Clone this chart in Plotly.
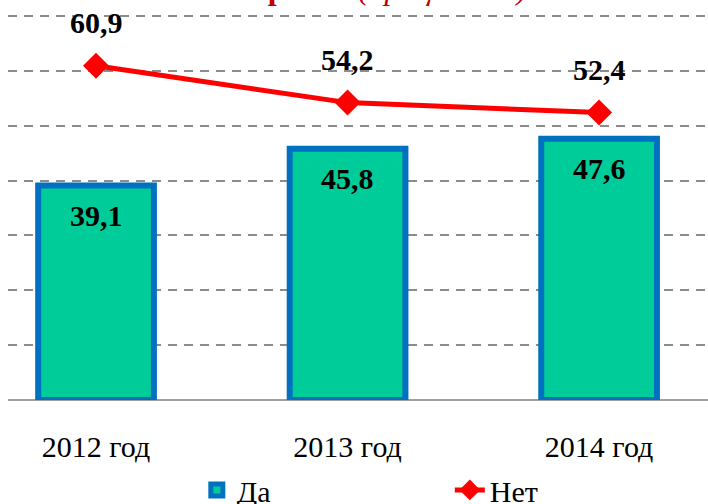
import plotly.graph_objects as go

categories = ["2012 год", "2013 год", "2014 год"]
yes_values = [39.1, 45.8, 47.6]
no_values = [60.9, 54.2, 52.4]
yes_labels = ["39,1", "45,8", "47,6"]
no_labels = ["60,9", "54,2", "52,4"]
series_names = ["Да", "Нет"]
title_text = "<b>интернет?</b> <i>(процентов)</i>"

FONT = "Liberation Serif"

fig = go.Figure()
fig.add_trace(go.Bar(
    x=categories, y=yes_values, name=series_names[0],
    marker=dict(color="#00CC99", line=dict(color="#0070C0", width=6)),
    width=0.46, hoverinfo="skip",
))
fig.add_trace(go.Scatter(
    x=categories, y=no_values, name=series_names[1], mode="lines+markers",
    line=dict(color="#FF0000", width=5),
    marker=dict(symbol="diamond", size=20, color="#FF0000"),
    hoverinfo="skip",
))

annotations = []
for c, v, t in zip(categories, yes_values, yes_labels):
    annotations.append(dict(x=c, y=v, text="<b>%s</b>" % t, showarrow=False,
                            yshift=-30, yanchor="middle",
                            font=dict(family=FONT, size=30, color="black")))
for c, v, t in zip(categories, no_values, no_labels):
    annotations.append(dict(x=c, y=v, text="<b>%s</b>" % t, showarrow=False,
                            yshift=43, yanchor="middle",
                            font=dict(family=FONT, size=30, color="black")))
annotations.append(dict(xref="paper", yref="paper", x=0.509, y=0.98,
                        xanchor="center", yanchor="bottom", text=title_text,
                        showarrow=False,
                        font=dict(family=FONT, size=32, color="#C00000")))

fig.update_layout(
    width=708, height=504,
    margin=dict(l=8, r=0, t=0, b=104, autoexpand=False),
    paper_bgcolor="white", plot_bgcolor="white",
    showlegend=True,
    legend=dict(orientation="h", xref="container", yref="container",
                x=0.278, y=0.028, xanchor="left", yanchor="middle",
                entrywidth=208, entrywidthmode="pixels",
                font=dict(family=FONT, size=30, color="black"),
                bgcolor="rgba(0,0,0,0)"),
    annotations=annotations,
    xaxis=dict(range=[-0.35, 2.433], showgrid=False, zeroline=False,
               showline=False, ticks="",
               tickfont=dict(family=FONT, size=30, color="black"),
               ticklabelstandoff=26),
    yaxis=dict(range=[0, 72.9], dtick=10, showticklabels=False,
               showgrid=True, gridcolor="#8C8C8C", gridwidth=2,
               griddash="9px,7px",
               zeroline=True, zerolinecolor="#A0A0A0", zerolinewidth=1.5,
               showline=False),
)

fig.write_html("out.html", config={"displayModeBar": False},
               post_script="document.body.style.margin='0';document.body.style.overflow='hidden';")
